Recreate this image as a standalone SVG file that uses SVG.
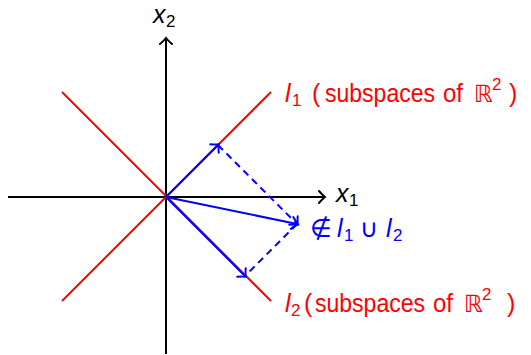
<svg xmlns="http://www.w3.org/2000/svg" width="531" height="355" viewBox="0 0 531 355">
<style>
.ax{stroke:#000;stroke-width:2;fill:none}
.red{stroke:#f00;stroke-width:2;fill:none}
.bl{stroke:#00f;stroke-width:2;fill:none}
.dash{stroke:#00f;stroke-width:2;fill:none;stroke-dasharray:7,5}
text{font-family:"Liberation Sans","DejaVu Sans",sans-serif;font-size:25px}
.it{font-style:italic}
.sub{font-size:17px}
.bb{font-family:"DejaVu Sans",sans-serif;font-size:24px}
</style>
<defs>
<marker id="ak" markerUnits="userSpaceOnUse" markerWidth="20" markerHeight="20" viewBox="-10 -10 20 20" refX="0" refY="0" orient="auto">
<path d="M-5,-6 Q-1,-1.5 1,0 Q-1,1.5 -5,6" stroke="#000" stroke-width="2" fill="none" stroke-linecap="round"/>
</marker>
<marker id="ab" markerUnits="userSpaceOnUse" markerWidth="20" markerHeight="20" viewBox="-10 -10 20 20" refX="0" refY="0" orient="auto">
<path d="M-5,-6 Q-1,-1.5 1,0 Q-1,1.5 -5,6" stroke="#00f" stroke-width="2" fill="none" stroke-linecap="round"/>
</marker>
</defs>
<g id="axes">
<line class="ax" x1="8" y1="197" x2="324" y2="197" marker-end="url(#ak)"/>
<line class="ax" x1="166" y1="354" x2="166" y2="39" marker-end="url(#ak)"/>
</g>
<g id="subspaces">
<line class="red" x1="62" y1="301" x2="271" y2="92"/>
<line class="red" x1="62" y1="92" x2="271" y2="301"/>
</g>
<g id="connectors">
<line class="bl" x1="166" y1="197" x2="218" y2="145" marker-end="url(#ab)"/>
<line class="bl" x1="166" y1="197" x2="245" y2="276" marker-end="url(#ab)"/>
<line class="bl" x1="166" y1="197" x2="297" y2="224" marker-end="url(#ab)"/>
<line class="dash" x1="218" y1="145" x2="297" y2="224" marker-end="url(#ab)"/>
<line class="dash" x1="297" y1="224" x2="245" y2="276"/>
</g>
<g id="labels">
<text y="23"><tspan class="it" x="153">x</tspan><tspan class="sub" x="166" y="27">2</tspan></text>
<text y="202"><tspan class="it" x="336">x</tspan><tspan class="sub" x="349" y="206">1</tspan></text>
<text y="102" fill="#f00"><tspan class="it" x="285">l</tspan><tspan class="sub" x="292" y="106">1</tspan><tspan x="312" y="102">(</tspan><tspan x="325" textLength="110" lengthAdjust="spacingAndGlyphs">subspaces</tspan><tspan x="443" textLength="20" lengthAdjust="spacingAndGlyphs">of</tspan><tspan class="bb" x="474">ℝ</tspan><tspan class="sub" x="492" y="90">2</tspan><tspan x="509" y="102">)</tspan></text>
<text y="237" fill="#00f"><tspan x="310">∉</tspan><tspan class="it" x="337">l</tspan><tspan class="sub" x="344" y="241">1</tspan><tspan x="360" y="237">∪</tspan><tspan class="it" x="386">l</tspan><tspan class="sub" x="393" y="241">2</tspan></text>
<text y="312" fill="#f00"><tspan class="it" x="285">l</tspan><tspan class="sub" x="291" y="316">2</tspan><tspan x="304" y="312">(</tspan><tspan x="315" textLength="110" lengthAdjust="spacingAndGlyphs">subspaces</tspan><tspan x="433" textLength="20" lengthAdjust="spacingAndGlyphs">of</tspan><tspan class="bb" x="464">ℝ</tspan><tspan class="sub" x="482" y="300">2</tspan><tspan x="507" y="312">)</tspan></text>
</g>
</svg>
